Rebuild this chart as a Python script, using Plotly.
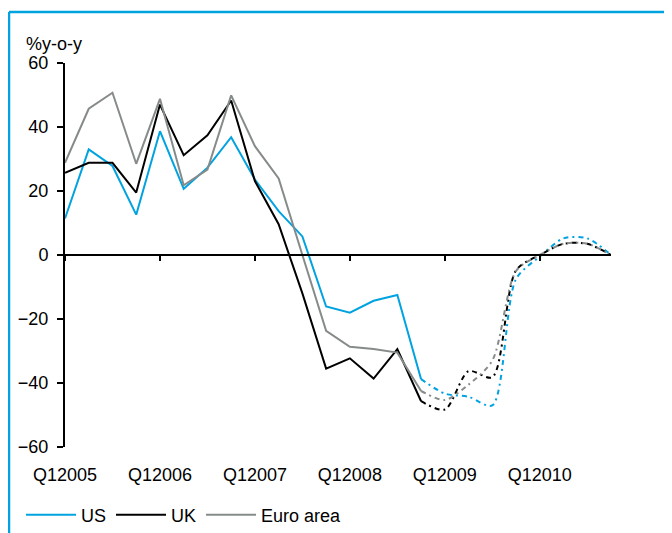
import plotly.graph_objects as go

# ---- data ----
quarters = [f"Q{q}{y}" for y in range(2005, 2011) for q in range(1, 5)]
n_actual = 16  # Q1 2005 .. Q4 2008 drawn solid

us_actual = [11.4, 33.0, 27.8, 12.6, 38.7, 20.7, 27.3, 36.8, 23.6, 13.7, 5.8, -16.1, -18.0, -14.3, -12.5, -38.8]
uk_actual = [25.7, 28.8, 28.8, 19.5, 47.0, 31.2, 37.4, 48.3, 23.1, 9.6, -12.0, -35.5, -32.3, -38.6, -29.4, -45.7]
euro_actual = [28.8, 45.7, 50.7, 28.5, 48.8, 21.8, 26.7, 49.9, 34.0, 23.9, 0.0, -23.7, -28.7, -29.4, -30.5, -42.5]

us_forecast = [-43.3, -44.3, -47.0, -7.5, -0.5, 5.2, 5.2, 0.0]
uk_forecast = [-48.3, -36.3, -38.2, -4.8, 0.0, 3.5, 3.5, 0.0]
euro_forecast = [-45.3, -40.5, -33.0, -5.0, 0.0, 3.5, 3.5, 0.0]

series_names = ["US", "UK", "Euro area"]
series_colors = ["#00A3E0", "#000000", "#868B8A"]

y_ticks = [60, 40, 20, 0, -20, -40, -60]
x_tick_idx = [i for i, q in enumerate(quarters) if q.startswith("Q1")]
x_tick_text = [quarters[i] for i in x_tick_idx]

FONT = "Liberation Sans, Arial, sans-serif"
FS = 18
BLUE = "#00A3E0"

fig = go.Figure()
idx = list(range(len(quarters)))
for name, color, act, fc in zip(series_names, series_colors,
                                 [us_actual, uk_actual, euro_actual],
                                 [us_forecast, uk_forecast, euro_forecast]):
    fig.add_trace(go.Scatter(x=idx[:n_actual], y=act, mode="lines", name=name,
                             line=dict(color=color, width=2), xaxis="x", yaxis="y"))
    fig.add_trace(go.Scatter(x=idx[n_actual - 1:], y=[act[-1]] + fc, mode="lines",
                             showlegend=False,
                             line=dict(color=color, width=2, dash="5px,4px,2px,4px",
                                       shape="spline", smoothing=0.8),
                             xaxis="x2", yaxis="y"))

# page body offset of the browser (8px) is compensated here
OFF = 8
W, H = 664, 525
L, T = 65 - OFF, 63 - OFF
R = W - (611 - OFF)
B = H - (447 - OFF)
pw, ph = W - L - R, H - T - B


def px_x(p):  # screen px -> paper
    return (p - OFF - L) / pw


def px_y(p):
    return (H - B - (p - OFF)) / ph


fig.update_layout(
    width=W, height=H,
    margin=dict(l=L, r=R, t=T, b=B, pad=0, autoexpand=False),
    paper_bgcolor="white", plot_bgcolor="white",
    font=dict(family=FONT, size=FS, color="black"),
    showlegend=True,
    legend=dict(orientation="h", xref="container", yref="container",
                x=(21 - OFF) / W, y=1 - (515 - OFF) / H, xanchor="left", yanchor="middle",
                font=dict(size=FS), itemwidth=50, tracegroupgap=0,
                bgcolor="rgba(0,0,0,0)"),
    xaxis=dict(range=[0, len(quarters) - 1], showgrid=False, zeroline=False,
               showline=False, ticks="", tickmode="array", tickvals=x_tick_idx,
               ticktext=x_tick_text, ticklabelstandoff=15, tickfont=dict(size=FS)),
    xaxis2=dict(overlaying="x", matches="x", anchor="free", position=0.5,
                showgrid=False, zeroline=False, showline=True, linecolor="black",
                linewidth=2, ticks="outside", ticklen=5, tickwidth=2, tickcolor="black",
                tickmode="array", tickvals=x_tick_idx, showticklabels=False),
    yaxis=dict(range=[-60, 60], showgrid=False, zeroline=False, showline=True,
               linecolor="black", linewidth=2, ticks="outside", ticklen=6, tickwidth=2,
               tickcolor="black", tickmode="array", tickvals=y_ticks,
               ticklabelstandoff=5, tickfont=dict(size=FS)),
    annotations=[dict(text="%y-o-y", x=px_x(24), y=px_y(44), xref="paper", yref="paper",
                      xanchor="left", yanchor="middle", showarrow=False,
                      font=dict(size=FS))],
    shapes=[
        dict(type="line", xref="paper", yref="paper", x0=px_x(9), x1=px_x(680),
             y0=px_y(12), y1=px_y(12), line=dict(color=BLUE, width=2.5)),
        dict(type="line", xref="paper", yref="paper", x0=px_x(9), x1=px_x(9),
             y0=px_y(12), y1=px_y(545), line=dict(color=BLUE, width=2.5)),
    ],
)

fig.write_html("out.html")
